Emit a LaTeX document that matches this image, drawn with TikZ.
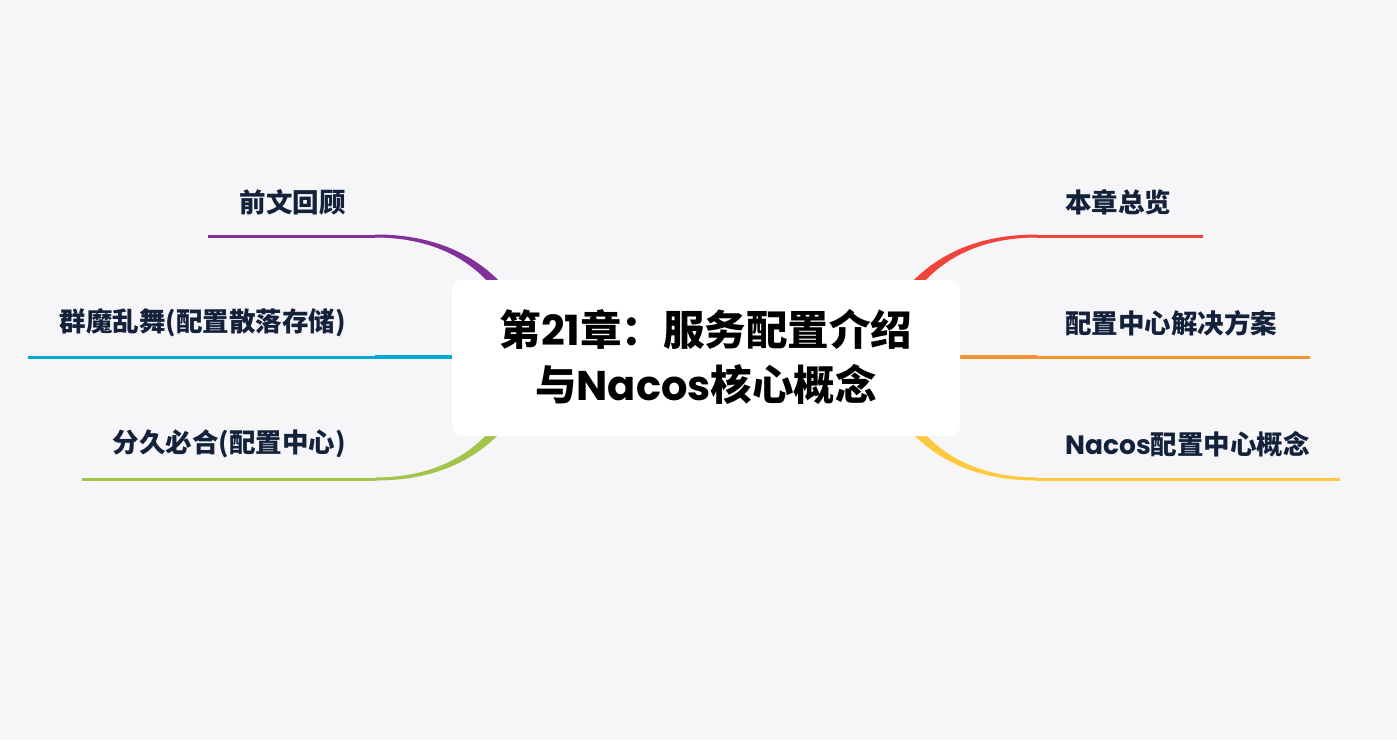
\documentclass[tikz,border=0pt]{standalone}
\usepackage{fontspec}
\setmainfont{Noto Sans CJK SC}
\newfontfamily\lat{Poppins}
\definecolor{bgc}{HTML}{F6F6F8}
\definecolor{navy}{HTML}{13213B}
\definecolor{cpurple}{HTML}{82319A}
\definecolor{ccyan}{HTML}{00A9D2}
\definecolor{cgreen}{HTML}{A2C44A}
\definecolor{cred}{HTML}{F0443A}
\definecolor{corange}{HTML}{F7932F}
\definecolor{cyellow}{HTML}{FDC93F}
\tikzset{
  lbl/.style={inner sep=0pt, text=navy, font=\fontsize{26.5}{30}\selectfont\bfseries},
  thin line/.style={line width=3pt},
}
\newcommand{\branchcurve}{%
  (0,-1.5) .. controls (65,-1.7) and (107,23) .. (134,56) -- (126,62) .. controls (103,29) and (65,1.7) .. (0,1.5) -- cycle}
\begin{document}
\begin{tikzpicture}[x=1pt,y=-1pt]
\fill[bgc] (0,0) rectangle (1397,740);
\useasboundingbox (0,0) rectangle (1397,740);

% coordinates of branch lines
\coordinate (c) at (706,357);
\coordinate (l1s) at (375,236); \coordinate (l1e) at (208,236);
\coordinate (l2s) at (375,357); \coordinate (l2e) at (28,357);  \coordinate (l2b) at (460,357);
\coordinate (l3s) at (375,479); \coordinate (l3e) at (82,479);
\coordinate (r1s) at (1037,236); \coordinate (r1e) at (1203,236);
\coordinate (r2s) at (1037,357); \coordinate (r2e) at (1310,357); \coordinate (r2b) at (952,357);
\coordinate (r3s) at (1037,479); \coordinate (r3e) at (1340,479);

% left branches
\draw[cpurple, thin line] (l1e) -- (l1s);
\begin{scope}[shift={(l1s)}] \fill[cpurple] \branchcurve; \end{scope}
\draw[ccyan, thin line] (l2e) -- (l2s);
\draw[ccyan, line width=4pt] (l2s) -- (l2b);
\draw[cgreen, thin line] (l3e) -- (l3s);
\begin{scope}[shift={(l3s)}, yscale=-1] \fill[cgreen] \branchcurve; \end{scope}

% right branches
\draw[cred, thin line] (r1s) -- (r1e);
\begin{scope}[shift={(r1s)}, xscale=-1] \fill[cred] \branchcurve; \end{scope}
\draw[corange, thin line] (r2s) -- (r2e);
\draw[corange, line width=4pt] (r2b) -- (r2s);
\draw[cyellow, thin line] (r3s) -- (r3e);
\begin{scope}[shift={(r3s)}, xscale=-1, yscale=-1] \fill[cyellow] \branchcurve; \end{scope}

% central topic
\fill[white, rounded corners=10pt] (452,280) rectangle (960,436);
\node[align=center, inner sep=0pt, font=\fontsize{41.5}{55}\selectfont\bfseries] (root) at (c)
  {第{\lat 21}章：服务配置介绍\\与{\lat Nacos}核心概念};

% labels
\node[lbl, anchor=east] (a1) at (346,202) {前文回顾};
\node[lbl, anchor=east] (a2) at (346,323) {群魔乱舞(配置散落存储)};
\node[lbl, anchor=east] (a3) at (346,444) {分久必合(配置中心)};
\node[lbl, anchor=west] (b1) at (1065,202) {本章总览};
\node[lbl, anchor=west] (b2) at (1065,323) {配置中心解决方案};
\node[lbl, anchor=west] (b3) at (1065,444) {{\lat Nacos}配置中心概念};
\end{tikzpicture}
\end{document}
